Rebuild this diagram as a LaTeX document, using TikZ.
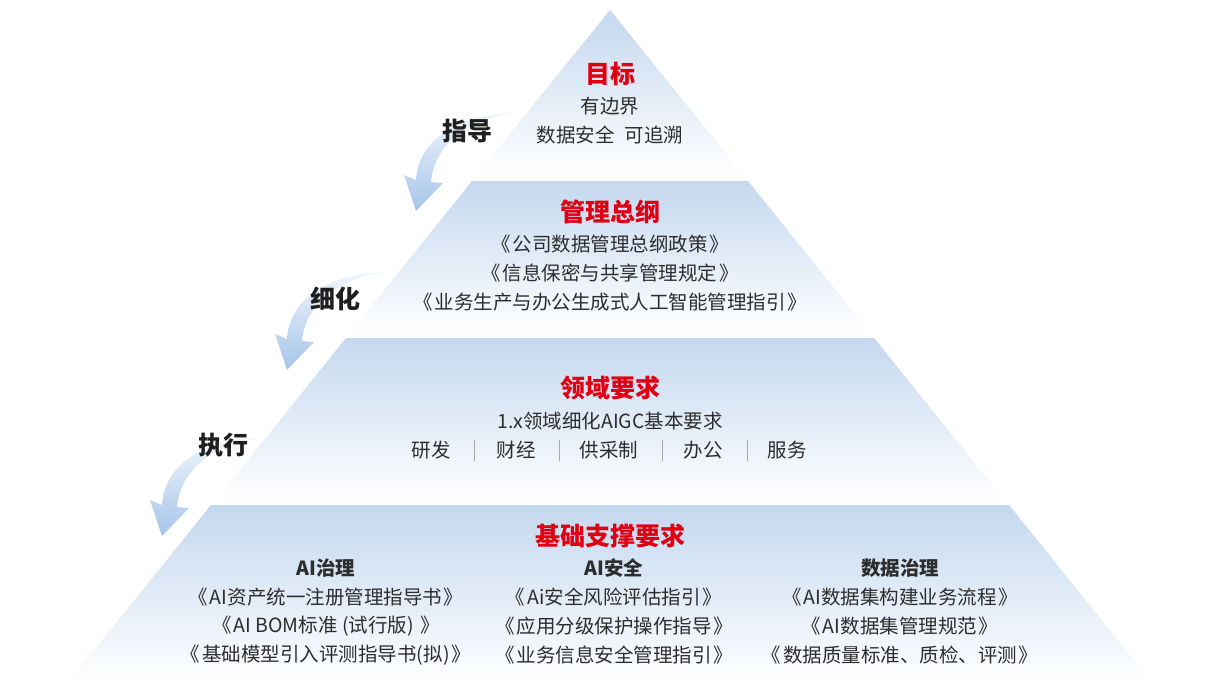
\documentclass[tikz,border=0pt]{standalone}
\usepackage{fontspec}
\setmainfont{Noto Sans CJK SC}
\definecolor{lb}{RGB}{196,216,239}
\definecolor{tred}{RGB}{224,0,18}
\definecolor{txt}{RGB}{45,45,45}
\definecolor{sep}{RGB}{170,170,170}
\definecolor{arr}{RGB}{166,197,233}
\definecolor{arrl}{RGB}{240,245,252}
\newcommand{\bkt}[1]{《\hspace{0.1em}#1\hspace{0.1em}》}
\tikzset{
  title/.style={inner sep=0pt, font=\fontsize{25}{29}\selectfont\bfseries, text=tred},
  body/.style={inner sep=0pt, font=\fontsize{19.5}{23}\selectfont, text=txt},
  colhead/.style={inner sep=0pt, font=\fontsize{19.5}{23}\selectfont\bfseries, text=txt},
  lab/.style={inner sep=0pt, font=\fontsize{25}{30}\selectfont\bfseries, text=black!88},
  layer/.style={top color=lb, bottom color=white},
  arrowshape/.style={top color=arrl, bottom color=arr},
  sepline/.style={draw=sep, line width=1pt},
  curvarrow/.pic={\shade[arrowshape] (97,-98) .. controls (40,-96) and (2,-70) .. (0,-31) -- (-12,-36) -- (0,0) -- (27,-28) -- (15,-29) .. controls (18,-65) and (50,-91) .. (97,-98) -- cycle;}
}
\begin{document}
\begin{tikzpicture}[x=1pt,y=-1pt]
\useasboundingbox (0,0) rectangle (1216,696);
\fill[white] (0,0) rectangle (1216,696);
% layers
\shade[layer] (610,10) -- (745,177) -- (475,177) -- cycle;
\shade[layer] (472,181) -- (748,181) -- (871,334) -- (349,334) -- cycle;
\shade[layer] (346,338) -- (874,338) -- (1005,501) -- (215,501) -- cycle;
\shade[layer] (211,505) -- (1009,505) -- (1153,684) -- (67,684) -- cycle;
% arrows
\pic at (416,211) {curvarrow};
\pic at (287,370) {curvarrow};
\pic at (162,536) {curvarrow};
\node[lab] (l1) at (467,131) {指导};
\node[lab] (l2) at (335,299) {细化};
\node[lab] (l3) at (223,445) {执行};
% layer 1
\node[title] (t1) at (610,74) {目标};
\node[body] (a1) at (610,106) {有边界};
\node[body] (a2) at (610,135) {数据安全\hspace{0.5em}可追溯};
% layer 2
\node[title] (t2) at (610,212) {管理总纲};
\node[body] (b1) at (610,244) {\bkt{公司数据管理总纲政策}};
\node[body] (b2) at (610,273) {\bkt{信息保密与共享管理规定}};
\node[body] (b3) at (610,302) {\bkt{业务生产与办公生成式人工智能管理指引}};
% layer 3
\node[title] (t3) at (610,388) {领域要求};
\node[body] (c1) at (610,421) {1.x领域细化AIGC基本要求};
\node[body] (d1) at (431,450) {研发};
\node[body] (d2) at (516,450) {财经};
\node[body] (d3) at (609,450) {供采制};
\node[body] (d4) at (703,450) {办公};
\node[body] (d5) at (787,450) {服务};
\coordinate (s1t) at (474,440); \coordinate (s1b) at (474,461);
\coordinate (s2t) at (559,440); \coordinate (s2b) at (559,461);
\coordinate (s3t) at (662,440); \coordinate (s3b) at (662,461);
\coordinate (s4t) at (747,440); \coordinate (s4b) at (747,461);
\draw[sepline] (s1t) -- (s1b);
\draw[sepline] (s2t) -- (s2b);
\draw[sepline] (s3t) -- (s3b);
\draw[sepline] (s4t) -- (s4b);
% layer 4
\node[title] (t4) at (610,536) {基础支撑要求};
\node[colhead] (h1) at (326,568) {AI治理};
\node[colhead] (h2) at (614,568) {AI安全};
\node[colhead] (h3) at (900,568) {数据治理};
\node[body] (e1) at (326,597) {\bkt{AI资产统一注册管理指导书}};
\node[body] (e2) at (326,626) {\bkt{AI BOM标准 (试行版) }};
\node[body] (e3) at (326,655) {\bkt{基础模型引入评测指导书(拟)}};
\node[body] (f1) at (614,597) {\bkt{Ai安全风险评估指引}};
\node[body] (f2) at (614,626) {\bkt{应用分级保护操作指导}};
\node[body] (f3) at (614,655) {\bkt{业务信息安全管理指引}};
\node[body] (g1) at (900,597) {\bkt{AI数据集构建业务流程}};
\node[body] (g2) at (900,626) {\bkt{AI数据集管理规范}};
\node[body] (g3) at (900,655) {\bkt{数据质量标准、质检、评测}};
\end{tikzpicture}
\end{document}
